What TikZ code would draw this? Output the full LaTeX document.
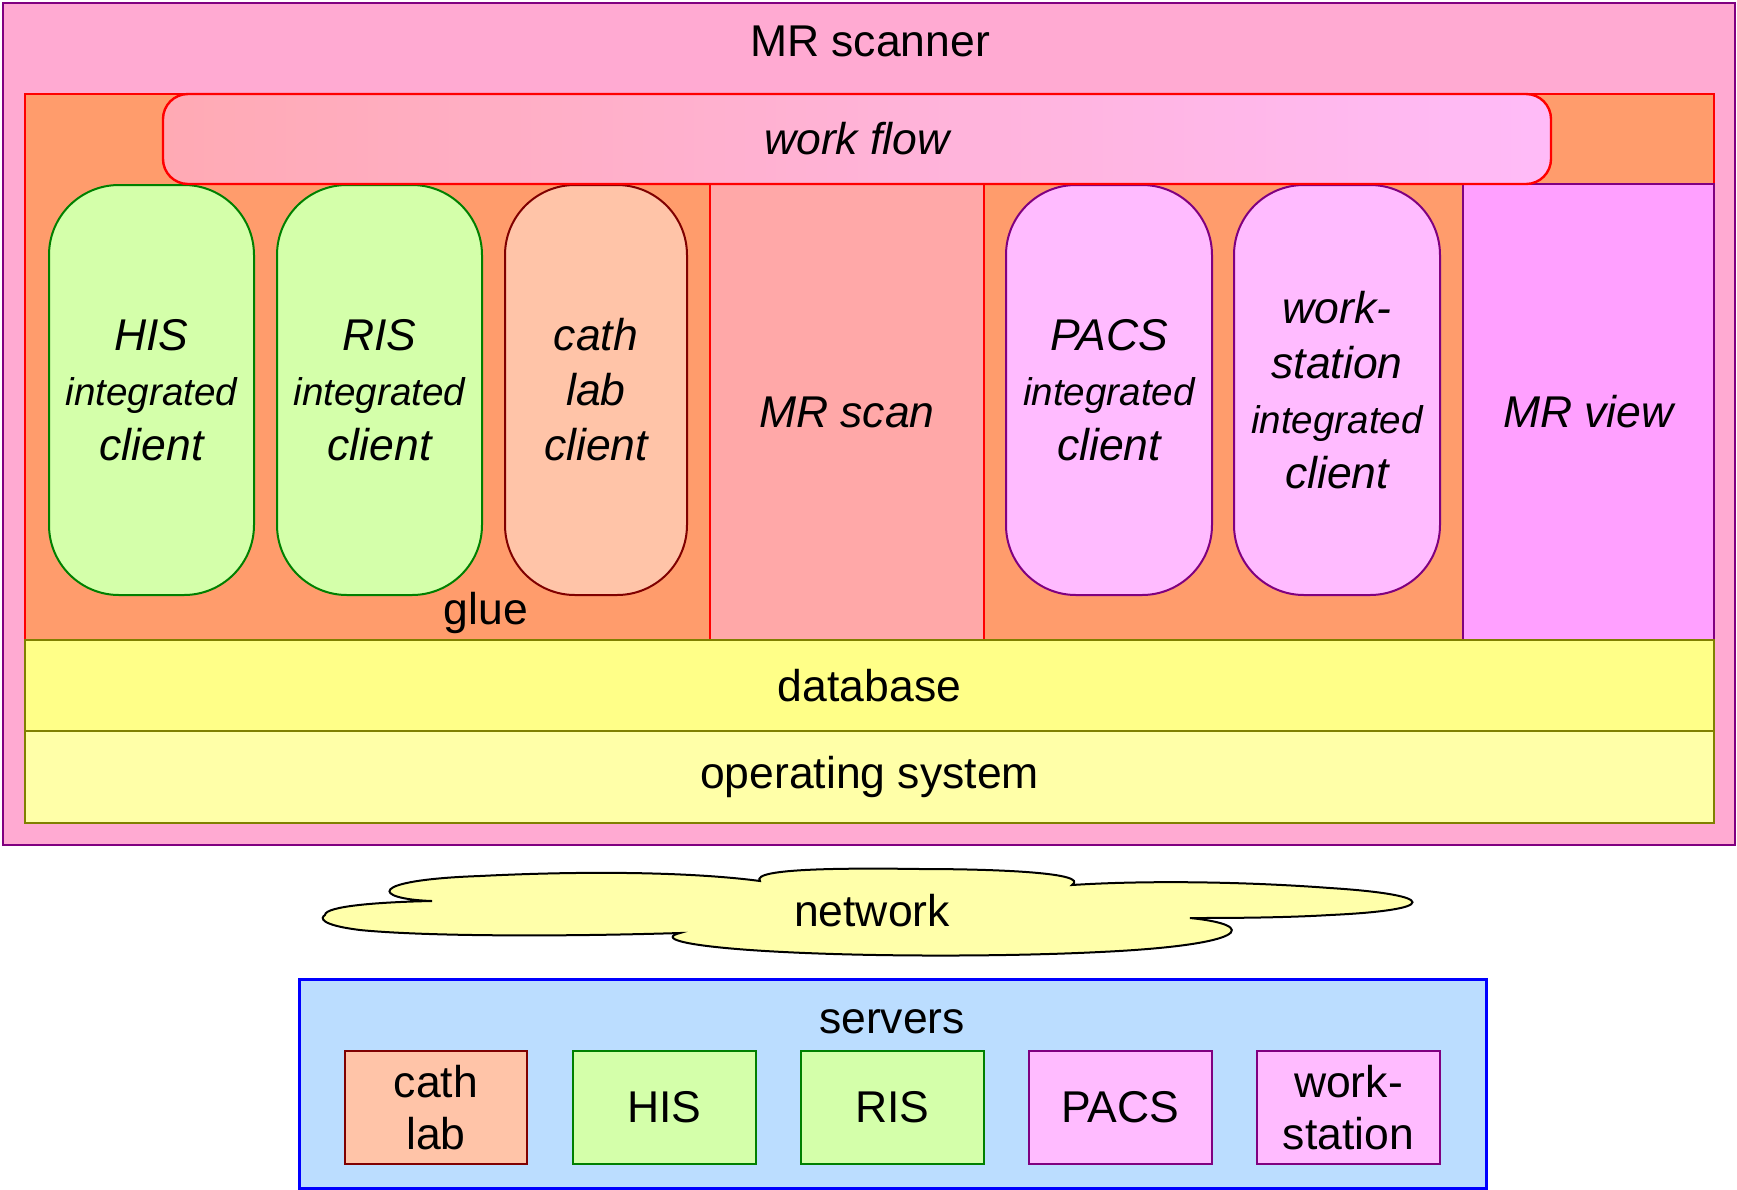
\documentclass[tikz,border=0pt]{standalone}
\usepackage{fontspec}
\setmainfont{Liberation Sans}
\usetikzlibrary{fit}
\definecolor{scannerfill}{HTML}{FFAAD2}
\definecolor{gluefill}{HTML}{FF9C6C}
\definecolor{greenfill}{HTML}{D4FFAA}
\definecolor{greenline}{HTML}{008000}
\definecolor{cathfill}{HTML}{FFC4A8}
\definecolor{cathline}{HTML}{800000}
\definecolor{pacsfill}{HTML}{FFBBFF}
\definecolor{purpleline}{HTML}{800080}
\definecolor{scanfill}{HTML}{FFA8A8}
\definecolor{viewfill}{HTML}{FFA0FF}
\definecolor{wfleft}{HTML}{FFAAB4}
\definecolor{wfright}{HTML}{FFBBF8}
\definecolor{dbfill}{HTML}{FFFF88}
\definecolor{osfill}{HTML}{FFFFA8}
\definecolor{oliveline}{HTML}{808000}
\definecolor{netfill}{HTML}{FFFFAA}
\definecolor{serverfill}{HTML}{BBDDFF}
\definecolor{serverline}{HTML}{0000FF}
\newcommand\mainsize{\fontsize{22.25}{27.5}\selectfont}
\newcommand\smallsize{\fontsize{19.3}{27.5}\selectfont}
\tikzset{
  area/.style={inner sep=0pt, line width=1pt},
  client/.style={area, rounded corners=35pt},
  greenclient/.style={client, draw=greenline, fill=greenfill},
  pinkclient/.style={client, draw=purpleline, fill=pacsfill},
  txt/.style={align=center, inner sep=0pt},
  itxt/.style={txt, font=\mainsize\itshape},
  stxt/.style={txt, font=\fontsize{22.25}{26}\selectfont},
}
\begin{document}
\begin{tikzpicture}[x=0.5pt,y=-0.5pt, font=\mainsize]
\useasboundingbox (0,0) rectangle (1737,1190);
% MR scanner
\node[area, draw=purpleline, fill=scannerfill, fit={(3,3)(1735,845)}] (scanner) {};
\node[txt] (title) at (870,41) {MR scanner};
% glue area
\node[area, draw=red, fill=gluefill, fit={(25,94)(1714,640)}] (gluearea) {};
\node[area, draw=red, fill=scanfill, fit={(710,184)(984,640)}] (mrscan) {};
\node[itxt] (mrscantxt) at (mrscan.center) {MR scan};
\node[area, draw=purpleline, fill=viewfill, fit={(1463,184)(1714,640)}] (mrview) {};
\node[itxt] (mrviewtxt) at (mrview.center) {MR view};
% clients
\node[greenclient, fit={(49,185)(254,595)}] (hisc) {};
\node[itxt] (hisctxt) at (hisc.center) {HIS\\{\smallsize integrated}\\client};
\node[greenclient, fit={(277,185)(482,595)}] (risc) {};
\node[itxt] (risctxt) at (risc.center) {RIS\\{\smallsize integrated}\\client};
\node[client, draw=cathline, fill=cathfill, fit={(505,185)(687,595)}] (cathc) {};
\node[itxt] (cathctxt) at (cathc.center) {cath\\lab\\client};
\node[pinkclient, fit={(1006,185)(1212,595)}] (pacsc) {};
\node[itxt] (pacsctxt) at (pacsc.center) {PACS\\{\smallsize integrated}\\client};
\node[pinkclient, fit={(1234,185)(1440,595)}] (wsc) {};
\node[itxt] (wsctxt) at (wsc.center) {work-\\station\\{\smallsize integrated}\\client};
% work flow
\node[area, draw=red, line width=1.2pt, rounded corners=12.5pt, left color=wfleft, right color=wfright, fit={(163,94)(1551,184)}] (workflow) {};
\node[itxt] (workflowtxt) at (workflow.center) {work flow};
\node[txt] (glue) at (486,613) {glue};
% database and OS
\node[area, draw=oliveline, fill=dbfill, fit={(25,640)(1714,731)}] (database) {};
\node[txt] (databasetxt) at (database.center) {database};
\node[area, draw=oliveline, fill=osfill, fit={(25,731)(1714,823)}] (os) {};
\node[txt] (ostxt) at (os.center) {operating system};
% network cloud
\draw[line width=1pt, fill=netfill]
  (325,915) .. controls (325,906) and (380,902) .. (432,901)
  .. controls (372,899) and (365,880) .. (480,876)
  .. controls (600,870) and (700,873) .. (760,881)
  .. controls (750,868) and (850,868) .. (920,869)
  .. controls (1000,869) and (1090,873) .. (1072,885)
  .. controls (1150,880) and (1250,882) .. (1330,888)
  .. controls (1440,895) and (1440,910) .. (1330,915)
  .. controls (1280,918) and (1220,918) .. (1190,918)
  .. controls (1260,925) and (1250,945) .. (1100,952)
  .. controls (1000,957) and (850,957) .. (750,950)
  .. controls (680,945) and (660,938) .. (680,933)
  .. controls (550,937) and (420,936) .. (360,930)
  .. controls (320,925) and (320,918) .. (325,915) -- cycle;
\node[txt] (network) at (872,911) {network};
% servers
\node[area, draw=serverline, line width=1.5pt, fill=serverfill, fit={(299,979)(1486,1188)}] (servers) {};
\node[txt] (serverstitle) at (892,1022) {servers};
\node[area, draw=cathline, fill=cathfill, fit={(345,1051)(527,1164)}] (caths) {};
\node[stxt] (cathstxt) at (caths.center) {cath\\lab};
\node[area, draw=greenline, fill=greenfill, fit={(573,1051)(756,1164)}] (hiss) {};
\node[stxt] (hisstxt) at (hiss.center) {HIS};
\node[area, draw=greenline, fill=greenfill, fit={(801,1051)(984,1164)}] (riss) {};
\node[stxt] (risstxt) at (riss.center) {RIS};
\node[area, draw=purpleline, fill=pacsfill, fit={(1029,1051)(1212,1164)}] (pacss) {};
\node[stxt] (pacsstxt) at (pacss.center) {PACS};
\node[area, draw=purpleline, fill=pacsfill, fit={(1257,1051)(1440,1164)}] (wss) {};
\node[stxt] (wsstxt) at (wss.center) {work-\\station};
\end{tikzpicture}
\end{document}
